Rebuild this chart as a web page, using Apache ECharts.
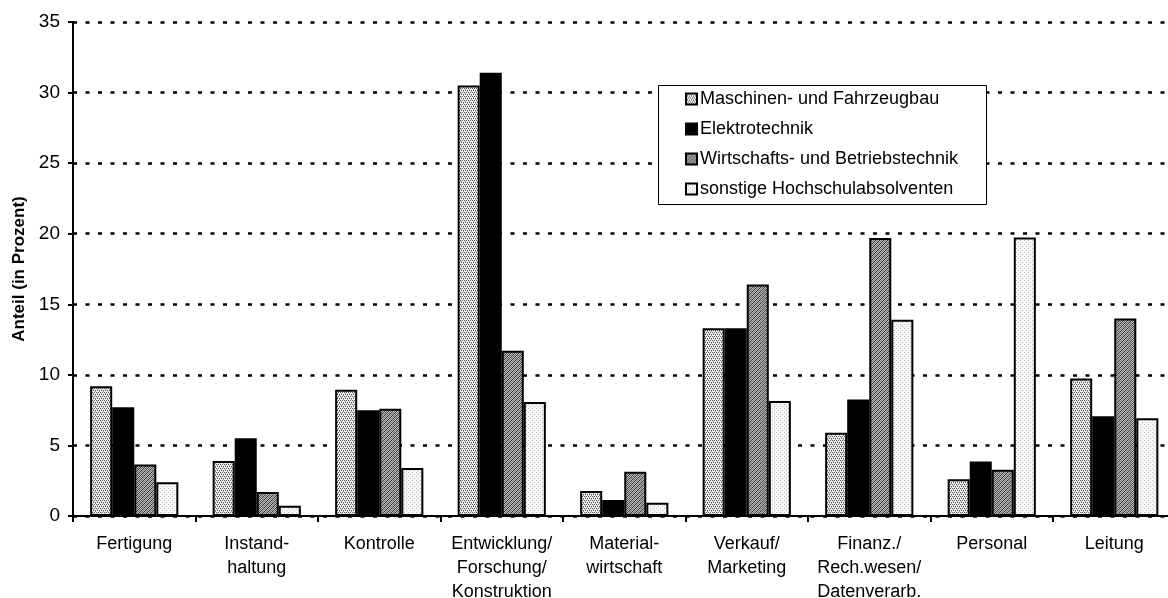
<!DOCTYPE html>
<html>
<head>
<meta charset="utf-8">
<script src="https://cdn.jsdelivr.net/npm/echarts@6/dist/echarts.min.js"></script>
<style>
html,body{margin:0;padding:0;background:#fff;overflow:hidden;}
#c{width:1176px;height:598px;}
</style>
</head>
<body>
<div id="c"></div>
<script>
const categories = ['Fertigung', 'Instand-\nhaltung', 'Kontrolle', 'Entwicklung/\nForschung/\nKonstruktion', 'Material-\nwirtschaft', 'Verkauf/\nMarketing', 'Finanz./\nRech.wesen/\nDatenverarb.', 'Personal', 'Leitung'];
const seriesNames = ['Maschinen- und Fahrzeugbau', 'Elektrotechnik', 'Wirtschafts- und Betriebstechnik', 'sonstige Hochschulabsolventen'];
const maschinenbau = [9.2, 3.9, 8.95, 30.5, 1.77, 13.3, 5.9, 2.6, 9.75];
const elektrotechnik = [7.7, 5.5, 7.5, 31.4, 1.13, 13.3, 8.25, 3.87, 7.07];
const wirtschaft = [3.65, 1.7, 7.6, 11.7, 3.13, 16.4, 19.7, 3.27, 14.0];
const sonstige = [2.4, 0.73, 3.4, 8.08, 0.94, 8.15, 13.9, 19.74, 6.93];
const yTicks = [0, 5, 10, 15, 20, 25, 30, 35];

function makePattern(kind){
  const c = document.createElement('canvas');
  c.width = 4; c.height = 4;
  const g = c.getContext('2d');
  if (kind === 1) {
    g.fillStyle = '#f2f2f2'; g.fillRect(0,0,4,4);
    g.fillStyle = '#5a5a5a';
    g.fillRect(0,0,1,1); g.fillRect(2,0,1,1); g.fillRect(1,2,1,1); g.fillRect(3,2,1,1);
    g.fillStyle = '#9a9a9a';
    g.fillRect(1,1,1,1); g.fillRect(3,3,1,1);
  } else if (kind === 2) {
    g.fillStyle = '#000'; g.fillRect(0,0,4,4);
  } else if (kind === 3) {
    g.fillStyle = '#b4b4b4'; g.fillRect(0,0,4,4);
    g.fillStyle = '#3a3a3a';
    for (let i = 0; i < 4; i++) { g.fillRect(i, 3 - i, 1, 1); }
    g.fillStyle = '#777';
    for (let i = 0; i < 4; i++) { g.fillRect(i, (5 - i) % 4, 1, 1); }
  } else {
    g.fillStyle = '#f6f6f6'; g.fillRect(0,0,4,4);
    g.fillStyle = '#bdbdbd';
    g.fillRect(0,0,1,1); g.fillRect(2,2,1,1);
  }
  return {image: c, repeat: 'repeat'};
}

const fills = [makePattern(1), makePattern(2), makePattern(3), makePattern(4)];
const values = [maschinenbau, elektrotechnik, wirtschaft, sonstige];
const FONT = "'Liberation Sans', Arial, Helvetica, sans-serif";

const chart = echarts.init(document.getElementById('c'), null, {renderer: 'canvas'});
chart.setOption({
  animation: false,
  backgroundColor: '#fff',
  textStyle: {fontFamily: FONT},
  grid: {left: 73, right: 0.5, top: 22, bottom: 82, containLabel: false, outerBoundsMode: 'none'},
  graphic: [{
    type: 'rect', left: 658, top: 85, z: 5,
    shape: {width: 328, height: 119},
    style: {fill: '#fff', stroke: '#000', lineWidth: 1}
  }],
  legend: {
    orient: 'vertical', left: 680, top: 85, z: 10,
    icon: 'rect', itemWidth: 11, itemHeight: 11, itemGap: 12,
    textStyle: {fontFamily: FONT, fontSize: 18, color: '#000', lineHeight: 18, padding: [0,0,0,-2]},
    data: seriesNames
  },
  xAxis: {
    type: 'category', data: categories,
    axisLine: {lineStyle: {color: '#000', width: 2}},
    axisTick: {show: true, length: 6, lineStyle: {color: '#000', width: 2}},
    axisLabel: {fontFamily: FONT, fontSize: 18, color: '#000', lineHeight: 24, margin: 16, interval: 0}
  },
  yAxis: {
    type: 'value', min: 0, max: 35, interval: 5,
    name: 'Anteil (in Prozent)', nameLocation: 'middle', nameRotate: 90, nameGap: 45,
    nameTextStyle: {fontFamily: FONT, fontSize: 17, fontWeight: 'bold', color: '#000'},
    axisLine: {show: true, lineStyle: {color: '#000', width: 2}},
    axisTick: {show: true, length: 5, lineStyle: {color: '#000', width: 2}},
    axisLabel: {fontFamily: FONT, fontSize: 19, color: '#000', margin: 13,
      formatter: v => yTicks.indexOf(v) >= 0 ? String(v) : ''},
    splitLine: {show: true, lineStyle: {color: '#000', width: 2.5, type: [4, 8.5]}}
  },
  series: seriesNames.map((n, i) => ({
    name: n, type: 'bar', data: values[i],
    barGap: '0%', barCategoryGap: '28%',
    itemStyle: {color: fills[i], borderColor: '#000', borderWidth: 2}
  }))
});
</script>
</body>
</html>
